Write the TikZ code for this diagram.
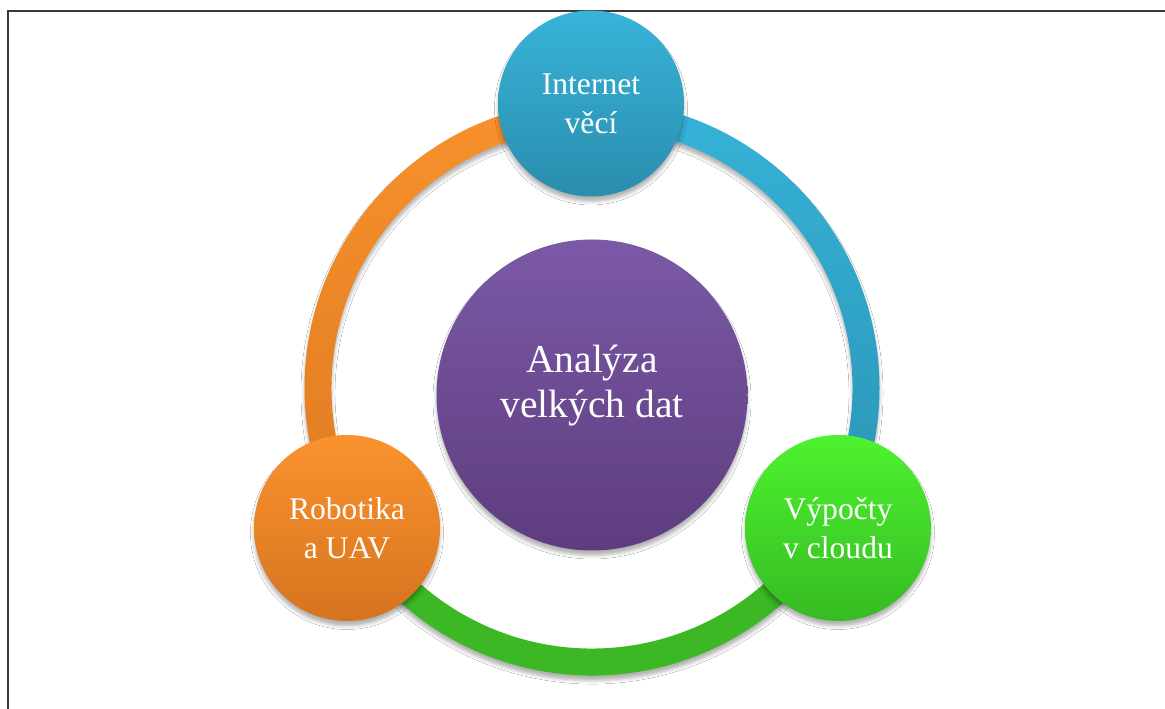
\documentclass[tikz,border=0pt]{standalone}
\usepackage{fontspec}
\setmainfont{Liberation Serif}
\usetikzlibrary{shadows.blur}
\definecolor{frame}{HTML}{3A3A3A}
\definecolor{blTop}{HTML}{38B3D9}
\definecolor{blBot}{HTML}{2A8DAD}
\definecolor{orTop}{HTML}{FA932E}
\definecolor{orBot}{HTML}{D6731F}
\definecolor{grTop}{HTML}{4EF230}
\definecolor{grBot}{HTML}{36BB22}
\definecolor{puTop}{HTML}{7B59A7}
\definecolor{puBot}{HTML}{5D3D7E}
\definecolor{arcOrTop}{HTML}{F8912C}
\definecolor{arcOrBot}{HTML}{DE7B22}
\definecolor{arcBlTop}{HTML}{36B2D8}
\definecolor{arcBlBot}{HTML}{2A94B4}
\definecolor{arcGr}{HTML}{3BB824}
\tikzset{
  softshadow/.style={blur shadow={shadow xshift=0pt, shadow yshift=-5pt, shadow blur radius=3.5pt, shadow opacity=30}},
  bubble/.style={circle, minimum size=186pt, inner sep=0pt, draw=none, text=white, align=center,
    font=\fontsize{31.6}{39}\selectfont, softshadow},
  hub/.style={circle, minimum size=311pt, inner sep=0pt, draw=none, softshadow},
  hubtext/.style={text=white, align=center, inner sep=0pt, font=\fontsize{39.5}{45}\selectfont},
  ringpart/.style={softshadow}
}
\def\Ro{287.5}
\def\Ri{260.5}
\begin{document}
\begin{tikzpicture}[x=1pt,y=1pt]
\useasboundingbox (0,0) rectangle (1165,709);
\fill[white] (0,0) rectangle (1165,709);
\draw[line width=2.5pt, color=frame] (8,-5) -- (8,698) -- (1170,698);
\coordinate (ring) at (592,321);
% ring segments
\shade[ringpart, top color=arcOrTop, bottom color=arcOrBot]
  ([shift={(90:\Ro)}]ring) arc[start angle=90, end angle=212, radius=\Ro]
  -- ([shift={(212:\Ri)}]ring) arc[start angle=212, end angle=90, radius=\Ri] -- cycle;
\shade[ringpart, top color=arcBlTop, bottom color=arcBlBot]
  ([shift={(90:\Ro)}]ring) arc[start angle=90, end angle=-32, radius=\Ro]
  -- ([shift={(-32:\Ri)}]ring) arc[start angle=-32, end angle=90, radius=\Ri] -- cycle;
\fill[ringpart, arcGr]
  ([shift={(208:\Ro)}]ring) arc[start angle=208, end angle=332, radius=\Ro]
  -- ([shift={(332:\Ri)}]ring) arc[start angle=332, end angle=208, radius=\Ri] -- cycle;
% circles
\node[hub, top color=puTop, bottom color=puBot] (hub) at (592,314) {};
\node[hubtext] (hubt) at ([yshift=9pt]hub.center) {Analýza\\velkých dat};
\node[bubble, top color=blTop, bottom color=blBot] (iot) at (591,605.5) {Internet\\věcí};
\node[bubble, top color=orTop, bottom color=orBot] (rob) at (347,181) {Robotika\\a UAV};
\node[bubble, top color=grTop, bottom color=grBot] (cloud) at (838,181) {Výpočty\\v cloudu};
\end{tikzpicture}
\end{document}
